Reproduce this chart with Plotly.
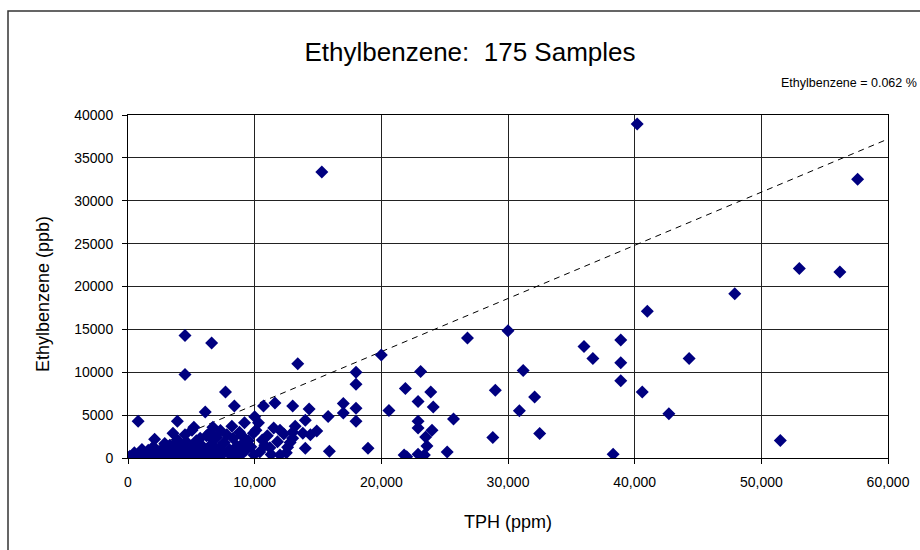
import plotly.graph_objects as go

# TPH (ppm) and Ethylbenzene (ppb) for the 175 samples
tph = [
    15300, 40200, 57600, 53000, 56200, 47900, 41000, 30000, 4500, 6600,
    38900, 36000, 26800, 36700, 38900, 44300, 13400, 20000, 23100, 31200,
    4500, 18000, 18000, 21900, 23900, 22900, 24100, 29000, 25700, 22900,
    22900, 24000, 23500, 23600, 25200, 28800, 21800, 22900, 23400, 20600,
    30900, 38900, 32100, 40600, 42700, 32500, 51500, 38300, 13000, 14300,
    17000, 18000, 17000, 18000, 15800, 14000, 14900, 13200, 12000, 13000,
    13800, 14400, 13000, 12600, 14000, 15900, 18950, 12000, 11200, 11600,
    10700, 7700, 8400, 6100, 22000, 10000, 10300, 9200, 8200, 10100,
    10600, 9100, 9950, 9000, 8400, 6700, 6700, 6900, 4900, 5050,
    5200, 4500, 5700, 3900, 3300, 2750, 1600, 1200, 400, 0,
    800, 3900, 2100, 3550,
    200, 500, 700, 900, 1000, 1300, 1500, 1700, 1900, 2200,
    2400, 2600, 2800, 3000, 3100, 3300, 3500, 3700, 3900, 4100,
    4300, 4400, 4600, 4800, 5000, 5200, 5400, 5500, 5800, 6000,
    6200, 6300, 6500, 6600, 6800, 7000, 7200, 7300, 7500, 7600,
    7800, 8000, 8100, 8300, 8600, 8800, 9000, 9300, 9500, 9700,
    9900, 10400, 10800, 11000, 11300, 11500, 11800, 12300, 12500, 1100,
    2000, 2900, 500, 150, 3400, 4000, 5600, 6400, 7100, 8800,
    12800,
]
ethylbenzene = [
    33350, 38950, 32500, 22100, 21700, 19150, 17100, 14850, 14300, 13400,
    13750, 13000, 14000, 11600, 11100, 11600, 11000, 12000, 10100, 10200,
    9750, 10000, 8600, 8100, 7700, 6600, 5950, 7900, 4550, 4300,
    3500, 3250, 2450, 1400, 700, 2400, 350, 450, 350, 5550,
    5500, 9000, 7100, 7700, 5150, 2850, 2050, 450, 6050, 5700,
    6350, 5800, 5250, 4300, 4850, 4400, 3150, 3700, 3250, 3000,
    2900, 2700, 2300, 1250, 1150, 800, 1150, 350, 1200, 6400,
    6050, 7700, 6050, 5350, 150, 4800, 4100, 4100, 3700, 3250,
    2100, 1750, 350, 600, 700, 3600, 2100, 350, 120, 3250,
    3600, 2700, 2300, 2100, 1500, 1150, 900, 700, 350, 100,
    4300, 4300, 2200, 2900,
    50, 100, 200, 100, 400, 300, 150, 500, 250, 100,
    600, 300, 800, 200, 1000, 500, 1300, 300, 800, 1600,
    500, 1000, 1900, 700, 1400, 300, 2000, 900, 1500, 500,
    2600, 1100, 3000, 1600, 700, 2400, 1200, 3200, 500, 1800,
    2700, 1000, 300, 2300, 1400, 3000, 2600, 900, 2000, 1300,
    2900, 700, 1500, 2600, 400, 3500, 1900, 2800, 600, 1000,
    1300, 1700, 600, 200, 200, 100, 200, 100, 150, 200,
    1800,
]

ratio_label = "Ethylbenzene = 0.062 %"
ratio = 0.62  # ppb per ppm (0.062 %)
line_x = [0, 60000]
line_y = [v * ratio for v in line_x]

x_ticks = [0, 10000, 20000, 30000, 40000, 50000, 60000]
y_ticks = [0, 5000, 10000, 15000, 20000, 25000, 30000, 35000, 40000]

FONT = "Liberation Sans, Arial, sans-serif"

W, H = 920, 550
# plot-area edges in pixels
PL, PR, PT, PB = 128, 888, 115, 458
# chart-frame edges in pixels (top and left edges visible)
FL, FT = 8, 11


def fx(xp):
    return xp / W


def fy(yp):
    return 1 - yp / H


fig = go.Figure()
# chart frame (top and left edges), drawn on a full-page overlay axis pair
fig.add_trace(go.Scatter(
    x=[FL, FL, W], y=[H, FT, FT], mode="lines",
    line=dict(color="#333", width=1.5),
    xaxis="x2", yaxis="y2", hoverinfo="skip", showlegend=False,
    cliponaxis=False,
))
fig.add_trace(go.Scatter(
    x=line_x, y=line_y, mode="lines",
    line=dict(color="black", width=1, dash="6px,5px"),
    hoverinfo="skip", showlegend=False,
))
fig.add_trace(go.Scatter(
    x=tph, y=ethylbenzene, mode="markers",
    marker=dict(symbol="diamond", size=10, color="#000080",
                line=dict(width=0)),
    showlegend=False,
))

fig.update_layout(
    width=W, height=H,
    margin=dict(l=0, r=0, t=0, b=0),
    paper_bgcolor="white", plot_bgcolor="rgba(0,0,0,0)",
    font=dict(family=FONT, color="black", size=14),
    title=dict(text="Ethylbenzene:\u00a0 175 Samples", x=470 / W, xanchor="center",
               y=fy(52), yanchor="middle",
               font=dict(size=26, family=FONT, color="black")),
    xaxis=dict(domain=[fx(PL), fx(PR)], automargin=False,
               range=[0, 60000], tickvals=x_ticks, tickformat=",d",
               showgrid=True, gridcolor="#222", gridwidth=1,
               showline=True, linecolor="black", linewidth=1, mirror=True,
               ticks="outside", ticklen=5, tickcolor="black",
               ticklabelstandoff=6,
               zeroline=False, tickfont=dict(size=14)),
    yaxis=dict(domain=[fy(PB), fy(PT)], automargin=False,
               range=[0, 40000], tickvals=y_ticks, tickformat="d",
               showgrid=True, gridcolor="#222", gridwidth=1,
               showline=True, linecolor="black", linewidth=1, mirror=True,
               ticks="outside", ticklen=5, tickcolor="black",
               ticklabelstandoff=6,
               zeroline=False, tickfont=dict(size=14)),
    xaxis2=dict(domain=[0, 1], range=[0, W], visible=False, fixedrange=True,
                anchor="y2", automargin=False),
    yaxis2=dict(domain=[0, 1], range=[H, 0], visible=False, fixedrange=True,
                anchor="x2", automargin=False),
    annotations=[
        dict(text="TPH (ppm)", x=fx(508), y=fy(522), xref="paper", yref="paper",
             showarrow=False, xanchor="center", yanchor="middle",
             font=dict(size=18)),
        dict(text="Ethylbenzene (ppb)", x=fx(43), y=fy(294), xref="paper", yref="paper",
             showarrow=False, xanchor="center", yanchor="middle", textangle=-90,
             font=dict(size=18)),
        dict(text=ratio_label, x=fx(919), y=fy(83), xref="paper", yref="paper",
             showarrow=False, xanchor="right", yanchor="middle",
             font=dict(size=12.5)),
    ],
)

fig.write_html("out.html")
